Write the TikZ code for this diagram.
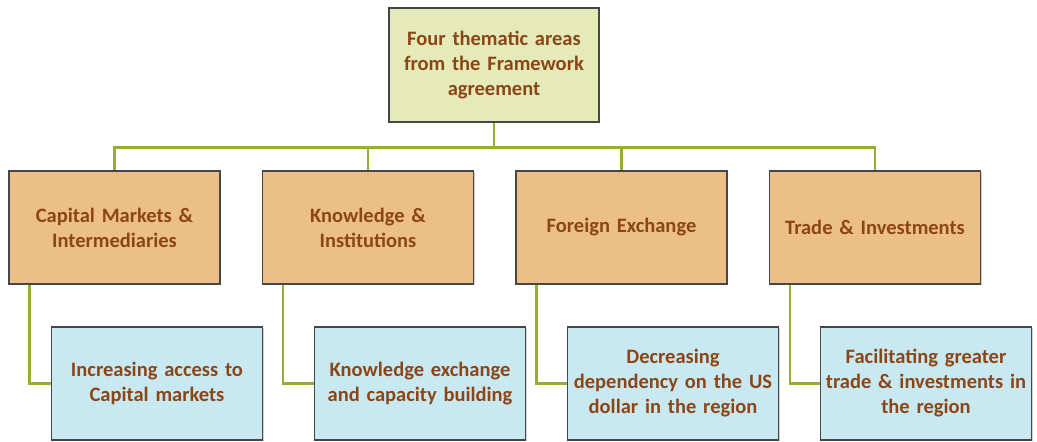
\documentclass[tikz,border=0pt]{standalone}
\usepackage{fontspec}
\setmainfont{Carlito}
\usetikzlibrary{shadows}
\definecolor{txtbrown}{RGB}{140,70,22}
\definecolor{topfill}{RGB}{228,234,184}
\definecolor{areafill}{RGB}{236,190,136}
\definecolor{goalfill}{RGB}{200,232,242}
\definecolor{linkgreen}{RGB}{152,172,58}
\definecolor{boxline}{RGB}{70,70,70}
\tikzset{
  box/.style={draw=boxline, line width=1.4pt, align=center, text width=205pt,
    font=\fontsize{20.5}{25}\selectfont\bfseries, text=txtbrown,
    minimum width=211pt, minimum height=113pt, inner sep=0pt,
    drop shadow={shadow xshift=1pt, shadow yshift=-1pt, opacity=.35}},
  topbox/.style={box, fill=topfill, minimum width=210pt, minimum height=114pt},
  areabox/.style={box, fill=areafill},
  goalbox/.style={box, fill=goalfill},
  link/.style={draw=linkgreen, line width=2.6pt}
}
\begin{document}
\begin{tikzpicture}[x=1pt,y=1pt]
 		\useasboundingbox (0,0) rectangle (1037,-442);
 		\node[topbox] (top) at (494,-65) {Four thematic areas\\from the Framework\\agreement};
 		\foreach \j [count=\xi] in {Capital Markets \&\\Intermediaries, Knowledge \&\\Institutions, Foreign Exchange, Trade \& Investments}
 				{\node[areabox] (area\xi) at (-139+253.5*\xi,-227.5) {\j};}
 		\foreach \j/\x [count=\xi] in {Increasing access to\\Capital markets/157, Knowledge exchange\\and capacity building/420, Decreasing\\dependency on the US\\dollar in the region/673, Facilitating greater\\trade \& investments in\\the region/926}
 				{\node[goalbox] (goal\xi) at (\x,-383.5) {\j};}
 		% connectors
 		\foreach \xi in {1,...,4}
 				{\draw[link] (top.south) -- ++(0,-25) -| (area\xi.north);
 				\draw[link] ([xshift=21pt]area\xi.south west) |- (goal\xi.west);}
\end{tikzpicture}
\end{document}
